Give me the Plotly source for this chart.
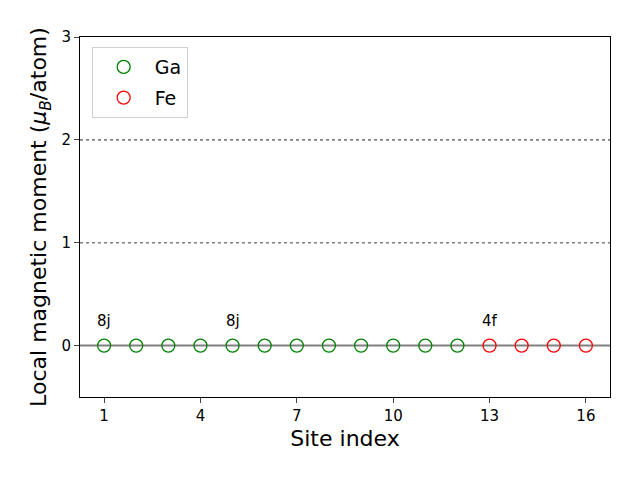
import plotly.graph_objects as go

ga_sites = [1, 2, 3, 4, 5, 6, 7, 8, 9, 10, 11, 12]
ga_moments = [0.0] * 12
fe_sites = [13, 14, 15, 16]
fe_moments = [0.0] * 4
label_sites = [1, 5, 13]
label_texts = ["8j", "8j", "4f"]
label_y = 0.24
x_ticks = [1, 4, 7, 10, 13, 16]
y_ticks = [0, 1, 2, 3]

fig = go.Figure()

for yv, dash, w in [(0, "solid", 2), (1, "dot", 1.6), (2, "dot", 1.6)]:
    fig.add_shape(type="line", xref="paper", yref="y", x0=0, x1=1, y0=yv, y1=yv,
                  line=dict(color="gray", width=w, dash=dash), layer="below")

fig.add_trace(go.Scatter(x=ga_sites, y=ga_moments, mode="markers", name="Ga", legendgroup="ga",
                         marker=dict(symbol="circle-open", size=13, color="green", line=dict(width=1.3))))
fig.add_trace(go.Scatter(x=fe_sites, y=fe_moments, mode="markers", name="Fe", legendgroup="fe",
                         marker=dict(symbol="circle-open", size=13, color="red", line=dict(width=1.3))))

for xs, t in zip(label_sites, label_texts):
    fig.add_annotation(x=xs, y=label_y, text=t, showarrow=False, xanchor="center", yanchor="middle",
                       font=dict(size=15, color="black"))

fig.update_layout(
    width=624, height=464,
    margin=dict(l=72, r=22, t=29, b=75),
    plot_bgcolor="white", paper_bgcolor="white",
    font=dict(family="DejaVu Sans", color="black"),
    legend=dict(x=0.022, y=0.972, xanchor="left", yanchor="top",
                bordercolor="#d0d0d0", borderwidth=1, bgcolor="white",
                font=dict(size=19), itemwidth=52, tracegroupgap=3),
    showlegend=True,
)
fig.update_xaxes(range=[0.25, 16.75], tickvals=x_ticks, ticks="outside", ticklen=5, tickwidth=1,
                 showgrid=False, zeroline=False, showline=True, linecolor="black", linewidth=1, mirror=True,
                 tickfont=dict(size=15), title=dict(text="Site index", font=dict(size=22), standoff=6))
fig.update_yaxes(range=[-0.5, 3], tickvals=y_ticks, ticks="outside", ticklen=5, tickwidth=1,
                 showgrid=False, zeroline=False, showline=True, linecolor="black", linewidth=1, mirror=True,
                 tickfont=dict(size=15),
                 title=dict(text="Local magnetic moment (<i>μ</i><sub><i>B</i></sub>/atom)", font=dict(size=22), standoff=8))

fig.write_html("out.html")
